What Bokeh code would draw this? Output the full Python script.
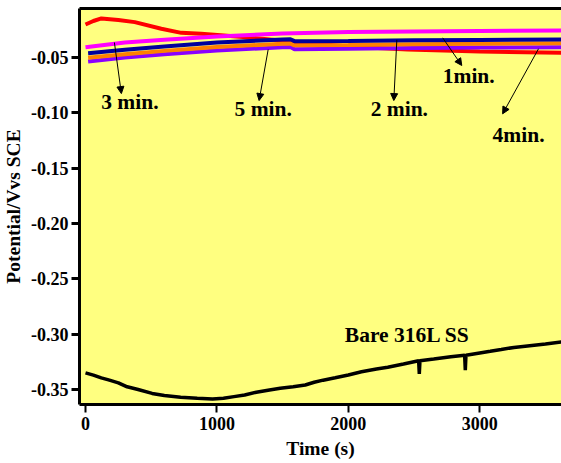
import numpy as np
from bokeh.plotting import figure
from bokeh.models import (Range1d, FixedTicker, PrintfTickFormatter, LinearAxis,
                          Label, Arrow, NormalHead)
from bokeh.embed import file_html
from bokeh.resources import INLINE

# ---------------- data ----------------
t_red = [0, 60, 121, 250, 375, 577, 729, 880, 1200, 1600, 2000, 2450, 3000, 3620]
v_red = [-0.0202, -0.017, -0.0147, -0.016, -0.018, -0.024, -0.0277, -0.0286,
         -0.0315, -0.036, -0.040, -0.0428, -0.0445, -0.0458]

t_mag = [0, 300, 600, 1000, 1500, 2000, 2500, 3000, 3620]
v_mag = [-0.0407, -0.0365, -0.034, -0.031, -0.0283, -0.027, -0.0265, -0.026, -0.0256]

t_nav = [20, 300, 600, 1000, 1500, 1560, 1590, 2000, 2500, 3000, 3620]
v_nav = [-0.0461, -0.043, -0.040, -0.0365, -0.0337, -0.0335, -0.0352, -0.035,
         -0.0345, -0.0342, -0.0337]

t_org = [20, 300, 600, 1000, 1500, 1560, 1590, 2000, 2500, 3000, 3620]
v_org = [-0.0503, -0.047, -0.044, -0.0405, -0.0376, -0.0374, -0.039, -0.0387,
         -0.038, -0.0375, -0.037]

t_pur = [20, 300, 600, 1000, 1500, 1560, 1590, 2000, 2500, 3000, 3620]
v_pur = [-0.0536, -0.050, -0.047, -0.0437, -0.0407, -0.0405, -0.0425, -0.042,
         -0.0415, -0.041, -0.0407]

t_bare = [0, 60, 120, 182, 250, 317, 400, 507, 600, 724, 850, 967, 1050, 1130,
          1211, 1300, 1400, 1482, 1580, 1672, 1740, 1808, 1900, 2000, 2100, 2214,
          2300, 2420, 2535, 2540, 2545, 2650, 2780, 2885, 2890, 2895, 3000, 3080,
          3163, 3260, 3380, 3500, 3620]
v_bare = [-0.335, -0.337, -0.3395, -0.3416, -0.344, -0.3476, -0.350, -0.3536,
          -0.3555, -0.357, -0.358, -0.3587, -0.358, -0.3565, -0.355, -0.3525,
          -0.3505, -0.349, -0.3475, -0.346, -0.3435, -0.3416, -0.3395, -0.337,
          -0.334, -0.3316, -0.330, -0.327, -0.324, -0.336, -0.324, -0.3225,
          -0.3205, -0.319, -0.3325, -0.319, -0.317, -0.3155, -0.3139, -0.312,
          -0.3105, -0.309, -0.307]

x_ticks = [0, 1000, 2000, 3000]
y_ticks = [-0.35, -0.30, -0.25, -0.20, -0.15, -0.10, -0.05]

labels = ["3 min.", "5 min.", "2 min.", "1min.", "4min.", "Bare 316L SS"]
label_t = [338, 1352, 2388, 2916, 3295, 2449]
label_v = [-0.0898, -0.0965, -0.0965, -0.0667, -0.1200, -0.3005]

arrow_t0 = [220, 1390, 2369, 2718, 3447]
arrow_v0 = [-0.0364, -0.0428, -0.034, -0.0322, -0.0421]
arrow_t1 = [273, 1321, 2346, 2863, 3174]
arrow_v1 = [-0.0826, -0.0889, -0.0889, -0.0572, -0.1009]

FONT = "Liberation Serif"

p = figure(width=561, height=463, output_backend="svg", toolbar_location=None,
           x_range=Range1d(-45.6, 3622), y_range=Range1d(-0.3636, -0.0057),
           min_border_left=78, min_border_right=0, min_border_top=8,
           min_border_bottom=59)
p.background_fill_color = "#FFFF80"
p.border_fill_color = "white"
p.outline_line_color = None
p.xgrid.visible = False
p.ygrid.visible = False

lw = 4
p.line(t_red, v_red, line_color="#FF0000", line_width=lw)
p.line(t_pur, v_pur, line_color="#8A00FF", line_width=lw)
p.line(t_org, v_org, line_color="#FF8000", line_width=lw)
p.line(t_nav, v_nav, line_color="#00009C", line_width=lw)
p.line(t_mag, v_mag, line_color="#FF00FF", line_width=lw)
p.line(t_bare, v_bare, line_color="black", line_width=3.5)

for a0, b0, a1, b1 in zip(arrow_t0, arrow_v0, arrow_t1, arrow_v1):
    p.add_layout(Arrow(x_start=a0, y_start=b0, x_end=a1, y_end=b1,
                       line_color="black", line_width=1,
                       end=NormalHead(size=7, fill_color="black", line_color="black")))

for txt, tx, ty in zip(labels, label_t, label_v):
    p.add_layout(Label(x=tx, y=ty, text=txt, text_font=FONT, text_font_style="bold",
                       text_font_size="21.5px", text_align="center",
                       text_baseline="middle", text_color="black"))

# axes
for ax in (p.xaxis[0], p.yaxis[0]):
    ax.axis_line_width = 3
    ax.axis_line_color = "black"
    ax.major_tick_line_color = "black"
    ax.minor_tick_line_color = None
    ax.major_tick_out = 8
    ax.major_tick_in = 0
    ax.major_label_text_font = FONT
    ax.major_label_text_font_style = "bold"
    ax.major_label_text_font_size = "18px"
    ax.major_label_text_color = "black"
    ax.axis_label_text_font = FONT
    ax.axis_label_text_font_style = "bold"
    ax.axis_label_text_font_size = "19.5px"
    ax.axis_label_text_color = "black"

p.xaxis.ticker = FixedTicker(ticks=x_ticks)
p.xaxis.formatter = PrintfTickFormatter(format="%d")
p.xaxis.major_tick_line_width = 2
p.xaxis.major_label_standoff = 4
p.xaxis.axis_label = "Time (s)"
p.xaxis.axis_label_standoff = 5

p.yaxis.ticker = FixedTicker(ticks=y_ticks)
p.yaxis.formatter = PrintfTickFormatter(format="%.2f")
p.yaxis.major_tick_line_width = 3
p.yaxis.major_label_standoff = 3
p.yaxis.axis_label = "Potential/Vvs SCE"
p.yaxis.axis_label_standoff = 4

top = LinearAxis(ticker=FixedTicker(ticks=[]), axis_line_width=3, axis_line_color="black",
                 major_tick_line_color=None, minor_tick_line_color=None,
                 major_tick_out=0, major_label_standoff=0,
                 major_label_text_font_size="0px")
p.add_layout(top, "above")

open("out.html", "w").write(file_html(p, INLINE))
